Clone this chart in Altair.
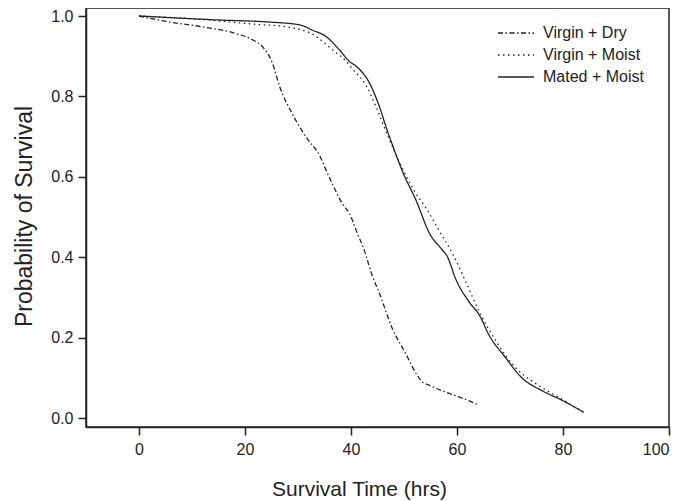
import altair as alt
import pandas as pd

series_names = ["Virgin + Dry", "Virgin + Moist", "Mated + Moist"]

dry_x = [0, 5.8, 12.0, 18.4, 21.4, 23.3, 25.2, 26.5, 28.8, 32.2, 33.7, 35.9, 38.4, 39.7, 41.2, 42.5, 44.0, 45.3, 47.8, 50.4, 52.3, 53.2, 54.8, 57.9, 61.0, 63.8]
dry_y = [1.0, 0.985, 0.973, 0.956, 0.941, 0.924, 0.882, 0.826, 0.760, 0.687, 0.662, 0.599, 0.533, 0.509, 0.460, 0.418, 0.355, 0.313, 0.223, 0.159, 0.111, 0.094, 0.082, 0.065, 0.050, 0.035]

vmoist_x = [0, 11.5, 21.4, 27.8, 32.7, 36.5, 39.1, 40.3, 42.9, 44.8, 45.9, 48.5, 51.5, 54.8, 56.6, 59.1, 61.7, 64.2, 67.4, 70.4, 74.9, 79.2, 83.9]
vmoist_y = [1.0, 0.992, 0.980, 0.973, 0.955, 0.916, 0.887, 0.868, 0.826, 0.772, 0.736, 0.655, 0.575, 0.509, 0.467, 0.411, 0.338, 0.265, 0.191, 0.135, 0.086, 0.052, 0.015]

mated_x = [0, 15.2, 24.6, 30.3, 32.7, 35.4, 37.8, 39.7, 41.0, 43.5, 45.3, 46.7, 48.5, 49.7, 52.3, 54.8, 57.2, 58.1, 59.8, 62.3, 64.2, 66.0, 69.2, 72.2, 76.0, 79.8, 83.9]
mated_y = [1.0, 0.990, 0.985, 0.978, 0.965, 0.948, 0.916, 0.887, 0.875, 0.833, 0.777, 0.721, 0.655, 0.614, 0.541, 0.460, 0.419, 0.404, 0.345, 0.289, 0.257, 0.208, 0.150, 0.101, 0.069, 0.045, 0.015]

x_ticks = [0, 20, 40, 60, 80, 100]
y_ticks = [0.0, 0.2, 0.4, 0.6, 0.8, 1.0]

rows = []
for name, xs, ys in zip(series_names, [dry_x, vmoist_x, mated_x], [dry_y, vmoist_y, mated_y]):
    for i, (a, b) in enumerate(zip(xs, ys)):
        rows.append({"series": name, "time": a, "surv": b, "i": i})
df = pd.DataFrame(rows)

FONT = "Liberation Sans"
INK = "#222222"

chart = alt.Chart(df).mark_line(strokeWidth=1.3, color=INK, interpolate="monotone").encode(
    x=alt.X("time:Q", scale=alt.Scale(domain=[-10, 100], nice=False, zero=False),
            axis=alt.Axis(values=x_ticks, title="Survival Time (hrs)", grid=False,
                          tickSize=8, labelPadding=6, titleX=273, titleY=68,
                          titleFontSize=21,
                          titleAlign="center", titleBaseline="alphabetic")),
    y=alt.Y("surv:Q", scale=alt.Scale(domain=[-0.0216, 1.0199], nice=False, zero=False),
            axis=alt.Axis(values=y_ticks, format=".1f", title="Probability of Survival", grid=False,
                          tickSize=8, labelPadding=5, titleX=-55, titleY=208, titleAngle=-90,
                          titleFontSize=23,
                          titleAlign="center", titleBaseline="alphabetic")),
    strokeDash=alt.StrokeDash("series:N",
        scale=alt.Scale(domain=series_names, range=[[5, 2.5, 1.5, 2.5], [1.5, 3.5], [1, 0]]),
        legend=alt.Legend(title=None, orient="none", legendX=422, legendY=17,
                          symbolType="M-3,0H3", symbolSize=144, symbolStrokeWidth=1.3,
                          symbolStrokeColor=INK, labelFontSize=16, labelFont=FONT,
                          labelColor=INK, labelOffset=19, padding=0, rowPadding=6)),
    order="i:Q",
    detail="series:N",
).properties(
    width=583, height=419,
    padding={"left": 78, "top": 0, "right": 8, "bottom": 74},
    autosize=alt.AutoSizeParams(type="none"),
).configure_view(
    stroke=INK, strokeWidth=1.5
).configure_axis(
    domainColor=INK, domainWidth=1.5, tickColor=INK, tickWidth=1.5,
    labelFont=FONT, labelFontSize=16, labelColor=INK,
    titleFont=FONT, titleColor=INK, titleFontWeight="normal",
)

chart.save("out.html", embed_options={"renderer": "svg", "actions": False})
